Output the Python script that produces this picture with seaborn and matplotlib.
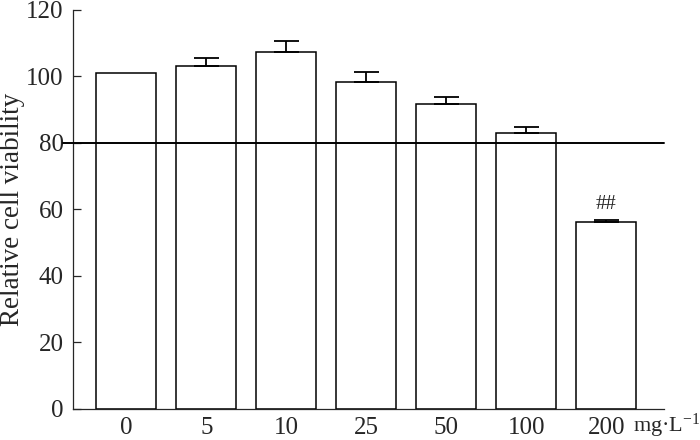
import matplotlib
matplotlib.use("Agg")
import matplotlib.pyplot as plt
import seaborn as sns
import pandas as pd

# concentrations (mg/L) and relative viability (mean, upper SD)
doses = ["0", "5", "10", "25", "50", "100", "200"]
viability = [101.0, 103.3, 107.3, 98.2, 91.7, 83.0, 56.3]
viability_err = [0.0, 2.4, 3.4, 3.2, 2.0, 1.7, 0.4]
threshold = 80
marks = ["", "", "", "", "", "", "##"]

sns.set_style("ticks")
plt.rcParams["font.family"] = "serif"
plt.rcParams["font.serif"] = ["Liberation Serif", "DejaVu Serif"]
plt.rcParams["mathtext.fontset"] = "custom"
plt.rcParams["mathtext.rm"] = "Liberation Serif"
plt.rcParams["mathtext.it"] = "Liberation Serif:italic"

df = pd.DataFrame({"dose": doses, "viability": viability, "err": viability_err})

fig = plt.figure(figsize=(7, 4.4), dpi=100)
ax = fig.add_axes([0.1047, 0.0705, 0.8439, 0.9068])

sns.barplot(data=df, x="dose", y="viability", order=doses, color="white",
            saturation=1, edgecolor="black", linewidth=1.1, width=0.75,
            errorbar=None, ax=ax)

has_err = df[df["err"] > 0]
ax.errorbar(has_err.index, has_err["viability"],
            yerr=[[0] * len(has_err), has_err["err"]], fmt="none",
            ecolor="black", elinewidth=1.3, capsize=9, capthick=1.3, zorder=3)

ax.axhline(threshold, xmin=-0.017, xmax=1, color="black", lw=1.4,
           clip_on=False, zorder=4)

for i, (v, e, m) in enumerate(zip(viability, viability_err, marks)):
    if m:
        ax.annotate(m, (i, v + e), xytext=(0, 5), textcoords="offset points",
                    ha="center", va="bottom", fontsize=15)

ax.set_xlim(-0.665, 6.72)
ax.set_ylim(0, 120)
ax.set_yticks(range(0, 121, 20))
ax.set_xlabel("")
ax.set_ylabel("Relative cell viability", fontsize=19.5)
ax.yaxis.set_label_coords(-0.082, 0.5)

ax.tick_params(axis="y", direction="in", length=6, width=0.9, pad=7, labelsize=18)
ax.tick_params(axis="x", length=0, pad=6, labelsize=18)

ax.text(6.33, -0.042, r"mg·L$^{-1}$", transform=ax.get_xaxis_transform(),
        ha="left", va="center", fontsize=16)

sns.despine(ax=ax)
for s in ["left", "bottom"]:
    ax.spines[s].set_linewidth(0.9)

fig.savefig("out.png", dpi=100)
